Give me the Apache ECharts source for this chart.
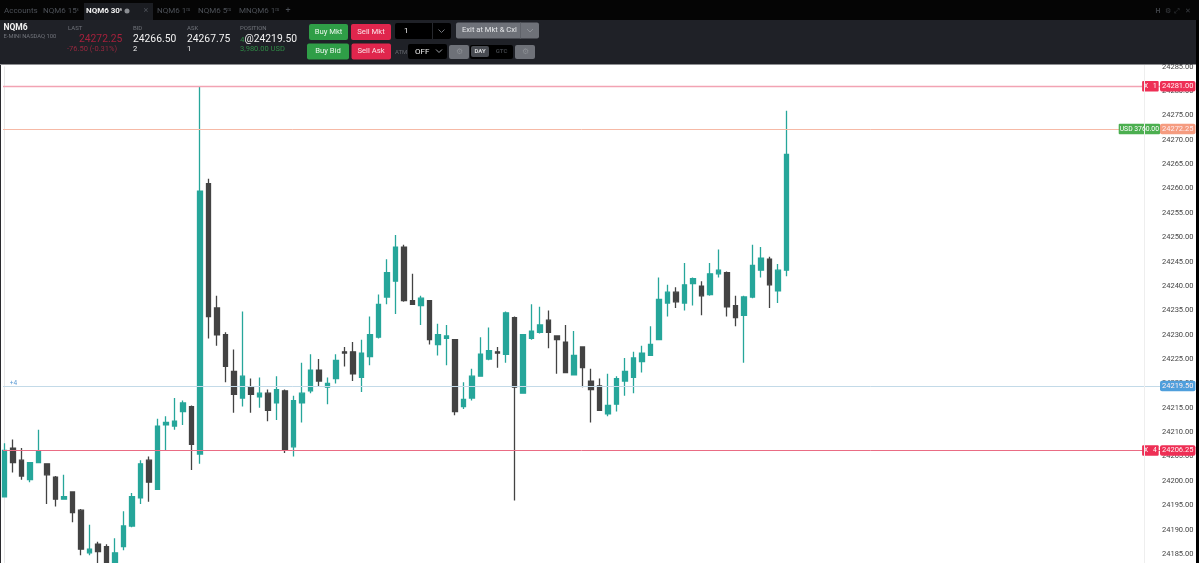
<!DOCTYPE html>
<html>
<head>
<meta charset="utf-8">
<title>NQM6 30s</title>
<style>
html,body{margin:0;padding:0;background:#fff;overflow:hidden}
#chart{width:1199px;height:563px}
</style>
<script src="https://cdn.jsdelivr.net/npm/echarts@6/dist/echarts.min.js"></script>
</head>
<body>
<div id="chart"></div>
<script>
// candles, one entry per bar
var opens = [
24196.75,24206.75,24204.25,24200.25,24203.75,24203.5,24200.75,24196.25,24197.75,24194,
24185.25,24187,24186.5,24182.5,24186.5,24190.75,24196.5,24204.25,24198.25,24211.5,
24211.25,24214.25,24215.25,24205.5,24261,24235.5,24230,24222.5,24217,24219.25,
24217.25,24218,24216,24218.5,24207,24216,24218.5,24222.75,24219.25,24221,
24226.5,24226.5,24221.25,24225.5,24229.5,24237.75,24241,24248,24237,24236,
24237,24228,24229.25,24229,24215.25,24217,24221.5,24225,24226.5,24226,
24233.5,24218,24229.25,24230.5,24233,24229.75,24228.5,24221.75,24227.5,24220.5,
24219.5,24213.75,24215.75,24220.5,24221.25,24224.5,24225.75,24229,24236.5,24238.75,
24236.5,24240.5,24240,24238.25,24242.5,24242.75,24236,24234,24237.75,24243.25,
24245.5,24239,24243.25];
var closes = [
24206.25,24203.75,24201,24203.75,24206,24201.25,24196.25,24196.75,24193.5,24186,
24186,24185.5,24182.5,24185.25,24190.75,24196.75,24203.5,24199.75,24211.25,24212,
24212.25,24216,24207.5,24259.5,24233.75,24230,24223.5,24217.75,24221.5,24217.75,
24218,24214.5,24218.75,24206.25,24216.5,24218,24222.75,24220.5,24220,24224.75,
24226.25,24222,24226.25,24230,24236.25,24242.75,24248,24237,24236.25,24237.5,
24229,24230,24229.75,24214.25,24216.75,24221.5,24226,24226.75,24226.25,24234.5,
24219.25,24230,24230.75,24232,24230.5,24229,24222.25,24225.75,24223.25,24218.75,
24214.5,24215.5,24221,24222.5,24225.25,24226.25,24228,24237.25,24238.75,24236.75,
24240.25,24241.5,24238,24242.5,24243.25,24235.75,24233.5,24237.75,24244.25,24245.75,
24240.25,24243.25,24267];
var lows = [
24196.75,24201.75,24200.25,24199.75,24203.75,24195.25,24194.75,24196.25,24191.5,24184.75,
24184.75,24183,24181.5,24182,24185.75,24190.5,24195.25,24195.75,24198.25,24206.25,
24210.5,24211.5,24202.25,24203.5,24229.25,24227.75,24220.25,24214,24215.25,24214,
24215,24212.25,24212.5,24205.75,24205,24212,24218,24219.5,24215.75,24220,
24223.5,24220.5,24218.25,24223.75,24229.25,24236.25,24234.25,24236.75,24236.25,24232,
24228,24225.75,24223.75,24213.5,24214.75,24216.5,24221.5,24224.75,24223.25,24224.25,
24196,24218,24229,24230.25,24227.25,24222,24222.25,24221.75,24219.25,24212,
24214.5,24213.25,24214.25,24217.5,24218,24222.25,24225.75,24229,24233.75,24235.5,
24235,24236,24234,24238,24241.75,24233.75,24231.75,24224.25,24237.5,24241.75,
24235.5,24236.5,24242];
var highs = [
24207.75,24208.5,24206.75,24203.75,24210.5,24203.5,24201,24201.25,24197.75,24194.25,
24191,24187.5,24187,24188.25,24193.75,24197.5,24204.25,24205,24212.75,24213.25,
24217,24216.5,24215.5,24281,24262,24238,24230.5,24227,24234.75,24221,
24221.25,24218.75,24221.5,24218.75,24217.5,24224.25,24226,24225,24221.25,24226,
24227.5,24228.5,24229,24233.75,24238.25,24245.5,24250.5,24248.5,24242.5,24238,
24237,24232.25,24232,24229,24220.25,24223,24229.5,24231.5,24227.5,24234.75,
24233.75,24230,24236.25,24235.75,24235,24229.75,24232,24230.75,24227.5,24223,
24221,24222,24221.5,24225.25,24226.5,24227.75,24231.75,24241.75,24240.25,24239.75,
24244.75,24241.75,24241,24244.75,24247.5,24243,24238,24238,24248.5,24248,
24246,24244.5,24276];
var barIndex = opens.map(function(o,i){ return i; });

// price axis
var priceMin = 24180;
var priceMax = 24285;
var priceStep = 5;

// order and position lines
var orderLinePrices = [24281, 24272.25, 24219.5, 24206.25];
var orderLineColors = ['#f2a3b3', '#f6b9a6', '#c3dae8', '#ea6c84'];
var orderLineWidths = [1.4, 1, 1, 1];
var orderTagColors = ['#ee2f55', '#f59c80', '#4f9fdc', '#ee2f55'];

// small tags sitting on those lines
var tagTexts = ['X   1', 'USD 3760.00', 'X   4', '+4'];
var tagBars = [134.8, 133.5, 134.8, 1.05];
var tagPrices = [24281, 24272.25, 24206.25, 24220.1];
var tagFills = ['#ee2f55', '#4caf50', '#ee2f55', 'transparent'];
var tagColors = ['#ffffff', '#ffffff', '#ffffff', '#5b9bd5'];

var upColor = '#26a69a';
var downColor = '#434343';
var font = 'Roboto';

var candleRows = barIndex.map(function(i){
    return [i, opens[i], closes[i], lows[i], highs[i]];
});

var lineItems = orderLinePrices.map(function(p, i){
    return {
        yAxis: p,
        lineStyle: {color: orderLineColors[i], width: orderLineWidths[i], type: 'solid'},
        label: {
            show: true, position: 'end', distance: 0,
            formatter: p.toFixed(2),
            color: '#ffeef0', backgroundColor: orderTagColors[i],
            fontFamily: font, fontSize: 7.5, padding: [1.5, 2, 1, 2], borderRadius: 2
        }
    };
});

var tagRows = tagTexts.map(function(t, i){
    return {
        value: [tagBars[i], tagPrices[i]],
        label: {
            show: true, position: 'inside', formatter: t,
            color: tagColors[i], backgroundColor: tagFills[i],
            fontFamily: font, fontSize: i == 1 ? 6.8 : 6.5,
            padding: i == 1 ? [2, 1, 1.5, 1] : [2, 2, 1.5, 2], borderRadius: 1
        }
    };
});

// header bar helpers
var headerParts = [];
function box(x, y, w, h, fill, r) {
    headerParts.push({type: 'rect', z: 100, silent: true,
        shape: {x: x, y: y, width: w, height: h, r: r || 0}, style: {fill: fill}});
}
function label(x, y, text, color, size, weight, align) {
    headerParts.push({type: 'text', z: 101, silent: true, x: x, y: y, style: {
        text: text, fill: color, font: (weight || 'normal') + ' ' + size + 'px ' + font,
        textAlign: align || 'left', textVerticalAlign: 'middle'
    }});
}
function chevron(x, y, color) {
    headerParts.push({type: 'polyline', z: 101, silent: true,
        shape: {points: [[x - 3, y - 1.5], [x, y + 1.5], [x + 3, y - 1.5]]},
        style: {stroke: color, lineWidth: 1, fill: null}});
}

box(0, 0, 1199, 20, '#050505');
box(0, 20, 1199, 44.5, '#1f2127');
box(84, 3, 69, 17, '#1b1d22');
box(0, 65, 1, 498, '#2a2a2e');
box(1196, 20, 3, 543, '#000000');
// faint column next to the price axis
box(1144, 65, 1, 498, '#eeeeee');

label(4, 11, 'Accounts', '#4d5158', 8);
label(43, 11, 'NQM6 15ˢ', '#4d5158', 8);
label(86, 11, 'NQM6 30ˢ', '#f0f0f0', 8, 'bold');
headerParts.push({type: 'circle', z: 101, silent: true, shape: {cx: 127, cy: 11, r: 2.5}, style: {fill: '#8a8d92'}});
label(146, 11, '×', '#4d5158', 9, 'normal', 'center');
label(157, 11, 'NQM6 1ᵐ', '#4d5158', 8);
label(198, 11, 'NQM6 5ᵐ', '#4d5158', 8);
label(239, 11, 'MNQM6 1ᵐ', '#4d5158', 8);
label(288, 11, '+', '#4d5158', 9, 'normal', 'center');
label(1158, 11, 'H', '#3c3f44', 7, 'bold', 'center');
label(1168, 11, '⚙', '#3c3f44', 7, 'normal', 'center');
label(1177, 11, '⤢', '#3c3f44', 7, 'normal', 'center');
label(1188, 11, '✕', '#3c3f44', 7, 'normal', 'center');

label(3.5, 27.5, 'NQM6', '#f2f2f2', 8.5, 'bold');
label(3.5, 36.5, 'E-MINI NASDAQ 100', '#71747b', 5.8);
label(68, 28.5, 'LAST', '#71747b', 6);
label(79, 39.5, '24272.25', '#a5213c', 10.3);
label(67, 49.5, '-76.50 (-0.31%)', '#96283e', 7.5);
label(133, 28.5, 'BID', '#71747b', 6);
label(133, 39.5, '24266.50', '#f2f2f2', 10.3);
label(133, 49.5, '2', '#f2f2f2', 7.5);
label(187, 28.5, 'ASK', '#71747b', 6);
label(187, 39.5, '24267.75', '#f2f2f2', 10.3);
label(187, 49.5, '1', '#f2f2f2', 7.5);
label(240, 28.5, 'POSITION', '#71747b', 6);
label(240, 39.5, '4', '#2f8a45', 8);
label(244.5, 39.5, '@24219.50', '#f2f2f2', 10.3);
label(240, 49.5, '3,980.00 USD', '#2f8a45', 7.5);

box(309, 24, 39, 16, '#2f9e47', 2);
label(328.5, 32, 'Buy Mkt', '#eaf6ec', 7.7, 'normal', 'center');
box(351, 24, 40, 16, '#e0264d', 2);
label(371, 32, 'Sell Mkt', '#fbe3e8', 7.7, 'normal', 'center');
box(395, 23, 56, 16, '#000000', 2);
label(404, 31, '1', '#f0f0f0', 8);
box(432, 23, 1, 16, '#26282d');
chevron(441.5, 31, '#72757b');
box(456, 22.5, 83, 16, '#6e7178', 2);
label(462, 30.5, 'Exit at Mkt & Cxl', '#e6e7e9', 7.6);
box(520, 22.5, 1, 16, '#5f6269');
chevron(530, 30.5, '#8f9298');

box(307, 43.5, 42, 16, '#2f9e47', 2);
label(328, 51.5, 'Buy Bid', '#eaf6ec', 7.7, 'normal', 'center');
box(351.5, 43.5, 39.5, 16, '#e0264d', 2);
label(371, 51.5, 'Sell Ask', '#fbe3e8', 7.7, 'normal', 'center');
label(395, 52, 'ATM', '#63666c', 6);
box(408, 44, 39, 15, '#000000', 2);
label(415, 52, 'OFF', '#f0f0f0', 8);
chevron(439, 51, '#a0a3a8');
box(449, 45, 20, 14, '#6e7178', 2);
label(459, 52, '⚙', '#8b8e93', 8, 'normal', 'center');
box(470, 45, 43, 14, '#000000', 2);
box(471, 46, 18, 11, '#484b51', 2);
label(480, 51.5, 'DAY', '#d8d9db', 6, 'bold', 'center');
label(501.5, 51.5, 'GTC', '#3d4045', 6, 'bold', 'center');
box(515, 45, 20, 14, '#6e7178', 2);
label(525, 52, '⚙', '#8b8e93', 8, 'normal', 'center');

var chart = echarts.init(document.getElementById('chart'));
chart.setOption({
    animation: false,
    backgroundColor: '#ffffff',
    grid: {left: 3, top: 66.8, width: 1157, height: 511.56, outerBoundsMode: 'none'},
    xAxis: {
        type: 'value',
        min: -0.19,
        max: 135.93,
        show: false
    },
    yAxis: {
        type: 'value',
        position: 'right',
        min: priceMin,
        max: priceMax,
        interval: priceStep,
        axisLine: {show: true, lineStyle: {color: '#e8e8e8', width: 1}},
        axisTick: {show: false},
        splitLine: {show: false},
        axisLabel: {
            color: '#444444', fontFamily: font, fontSize: 7.5, margin: 2,
            showMinLabel: true, showMaxLabel: true,
            formatter: function(v){ return v.toFixed(2); }
        }
    },
    series: [{
        type: 'candlestick',
        data: candleRows,
        encode: {x: 0, y: [1, 2, 3, 4]},
        barWidth: 5.2,
        clip: true,
        itemStyle: {
            color: upColor, color0: downColor,
            borderColor: upColor, borderColor0: downColor,
            borderWidth: 1.3
        },
        markLine: {
            silent: true,
            symbol: 'none',
            animation: false,
            data: lineItems
        }
    }, {
        type: 'scatter',
        silent: true,
        symbolSize: 1,
        itemStyle: {color: 'transparent', opacity: 1},
        data: tagRows,
        z: 5
    }],
    graphic: {elements: headerParts}
});
</script>
</body>
</html>
